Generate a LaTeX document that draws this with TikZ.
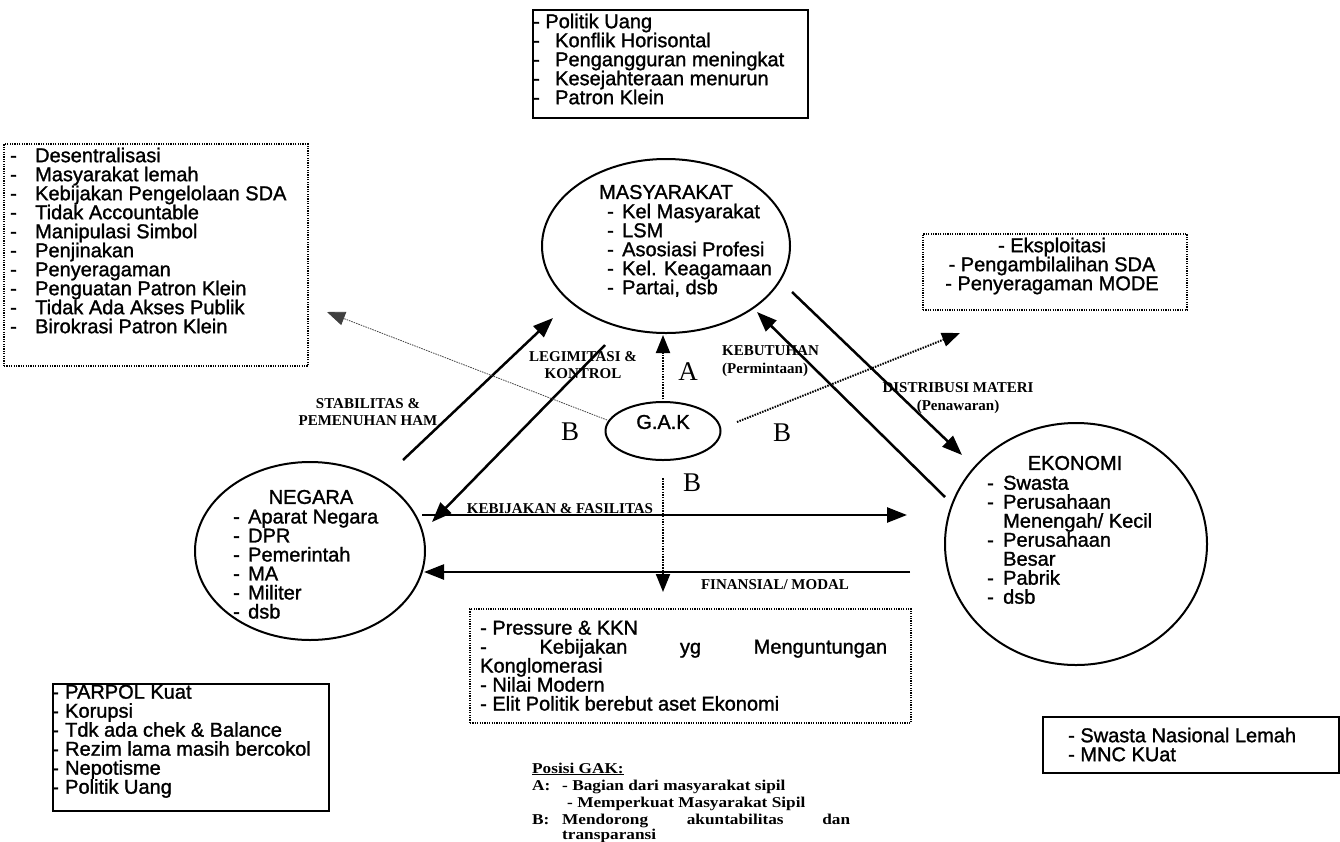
\documentclass[tikz,border=0pt]{standalone}
\usepackage{fontspec}
\setmainfont[FakeBold=1.3]{Liberation Sans}
\newfontfamily\lserif{Liberation Serif}
\newfontfamily\lserifw[FakeStretch=1.15]{Liberation Serif Bold}
\usetikzlibrary{shapes.geometric,arrows.meta}
\newcommand{\itm}[2]{\makebox[#1][l]{-}#2}
\begin{document}
\begin{tikzpicture}[x=1pt,y=-1pt,
  txt/.style={font=\fontsize{20}{19}\selectfont, inner sep=0pt, align=left},
  ctxt/.style={font=\fontsize{20}{19}\selectfont, inner sep=0pt, align=center},
  lab/.style={font=\lserif\bfseries\fontsize{15}{17.5}\selectfont, inner sep=0pt, align=center},
  posx/.style={font=\lserifw\fontsize{15}{17}\selectfont, inner sep=0pt},
  big/.style={font=\lserif\fontsize{27}{30}\selectfont, inner sep=0pt},
  ell/.style={draw, ellipse, line width=2pt, inner sep=0pt},
  sbox/.style={draw, rectangle, line width=2pt, inner sep=0pt, anchor=north west},
  dbox/.style={draw, rectangle, line width=2pt, dash pattern=on 1.2pt off 1.2pt, inner sep=0pt, anchor=north west},
  arr/.style={line width=2.5pt, -{Triangle[length=20pt,width=15pt]}},
  darr/.style={line width=2pt, dash pattern=on 1.5pt off 1.2pt, -{Triangle[length=18pt,width=14pt]}},
  tarr/.style={line width=0.8pt, dash pattern=on 1.5pt off 1pt, draw=black!75, -{Triangle[length=18pt,width=14pt]}}
]
\useasboundingbox (0,0) rectangle (1340,841);
\fill[white] (0,0) rectangle (1340,841);

% ---------- boxes ----------
\node[sbox, minimum width=275pt, minimum height=108pt] (topbox) at (532,9) {};
\node[txt, anchor=north west] (topT) at (533,13.5) {- Politik Uang\\
 \itm{22pt}{Konflik Horisontal}\\
 \itm{22pt}{Pengangguran meningkat}\\
 \itm{22pt}{Kesejahteraan menurun}\\
 \itm{22pt}{Patron Klein}};

\node[dbox, minimum width=304pt, minimum height=222pt] (leftbox) at (3,143) {};
\node[txt, anchor=north west] (leftT) at (10,147.5) {\itm{25pt}{Desentralisasi}\\
 \itm{25pt}{Masyarakat lemah}\\
 \itm{25pt}{Kebijakan Pengelolaan SDA}\\
 \itm{25pt}{Tidak Accountable}\\
 \itm{25pt}{Manipulasi Simbol}\\
 \itm{25pt}{Penjinakan}\\
 \itm{25pt}{Penyeragaman}\\
 \itm{25pt}{Penguatan Patron Klein}\\
 \itm{25pt}{Tidak Ada Akses Publik}\\
 \itm{25pt}{Birokrasi Patron Klein}};

\node[dbox, minimum width=264pt, minimum height=76pt] (rightbox) at (922,233) {};
\node[ctxt, anchor=north] (rightT) at (1052,237.5) {- Eksploitasi\\ - Pengambilalihan SDA\\ - Penyeragaman MODE};

\node[dbox, minimum width=441pt, minimum height=114pt] (midbox) at (469,608) {};
\node[txt, anchor=north west] (midT) at (480,620.5) {- Pressure \& KKN\\
 \makebox[407pt][s]{-\hfill Kebijakan\hfill yg\hfill Menguntungan}\\
 Konglomerasi\\
 - Nilai Modern\\
 - Elit Politik berebut aset Ekonomi};

\node[sbox, minimum width=276pt, minimum height=127pt] (blbox) at (52,683) {};
\node[txt, anchor=north west] (blT) at (52,684.5) {\itm{13pt}{PARPOL Kuat}\\
 \itm{13pt}{Korupsi}\\
 \itm{13pt}{Tdk ada chek \& Balance}\\
 \itm{13pt}{Rezim lama masih bercokol}\\
 \itm{13pt}{Nepotisme}\\
 \itm{13pt}{Politik Uang}};

\node[sbox, minimum width=296pt, minimum height=56pt] (brbox) at (1042,716) {};
\node[txt, anchor=north west] (brT) at (1068,727.5) {- Swasta Nasional Lemah\\ - MNC KUat};

% ---------- ellipses ----------
\node[ell, minimum width=248pt, minimum height=174pt] (masy) at (666,246) {};
\node[ctxt] (masyH) at (666,192) {MASYARAKAT};
\node[txt, anchor=north west] (masyT) at (607,203.5) {\itm{15pt}{Kel Masyarakat}\\
 \itm{15pt}{LSM}\\
 \itm{15pt}{Asosiasi Profesi}\\
 \itm{15pt}{Kel. Keagamaan}\\
 \itm{15pt}{Partai, dsb}};

\node[ell, minimum width=230pt, minimum height=178pt] (neg) at (310,551) {};
\node[ctxt] (negH) at (311,497) {NEGARA};
\node[txt, anchor=north west] (negT) at (233,509.5) {\itm{15pt}{Aparat Negara}\\
 \itm{15pt}{DPR}\\
 \itm{15pt}{Pemerintah}\\
 \itm{15pt}{MA}\\
 \itm{15pt}{Militer}\\
 \itm{15pt}{dsb}};

\node[ell, minimum width=262pt, minimum height=242pt] (eko) at (1076,544) {};
\node[ctxt] (ekoH) at (1075,463) {EKONOMI};
\node[txt, anchor=north west] (ekoT) at (987,475.5) {\itm{16pt}{Swasta}\\
 \itm{16pt}{Perusahaan}\\
 \hspace*{16pt}Menengah/ Kecil\\
 \itm{16pt}{Perusahaan}\\
 \hspace*{16pt}Besar\\
 \itm{16pt}{Pabrik}\\
 \itm{16pt}{dsb}};

\node[ell, minimum width=115pt, minimum height=58pt] (gak) at (663,431) {};
\node[ctxt] (gakT) at (663,422) {G.A.K};

% ---------- coordinates ----------
\coordinate (s1) at (403,460);  \coordinate (s2) at (553,318);
\coordinate (l1) at (605,345);  \coordinate (l2) at (432,522);
\coordinate (a1) at (663,402);  \coordinate (a2) at (663,335);
\coordinate (b1) at (663,478);  \coordinate (b2) at (663,592);
\coordinate (g1) at (607,420);  \coordinate (g2) at (327,312);
\coordinate (h1) at (737,422);  \coordinate (h2) at (960,333);
\coordinate (k1) at (945,497);  \coordinate (k2) at (757,312);
\coordinate (d1) at (792,292);  \coordinate (d2) at (962,455);
\coordinate (f1) at (422,515);  \coordinate (f2) at (907,515);
\coordinate (m1) at (910,572);  \coordinate (m2) at (424,572);

% ---------- connectors ----------
\draw[arr] (s1) -- (s2);
\draw[arr] (l1) -- (l2);
\draw[darr] (a1) -- (a2);
\draw[darr] (b1) -- (b2);
\draw[tarr] (g1) -- (g2);
\draw[darr] (h1) -- (h2);
\draw[arr] (k1) -- (k2);
\draw[arr] (d1) -- (d2);
\draw[arr] (f1) -- (f2);
\draw[arr] (m1) -- (m2);

% ---------- labels ----------
\node[lab] (labS) at (368,412) {STABILITAS \&\\PEMENUHAN HAM};
\node[lab] (labL) at (583,365) {LEGIMITASI \&\\KONTROL};
\node[lab, align=left, anchor=west] (labK) at (722,361) {KEBUTUHAN\\(Permintaan)};
\node[lab] (labD) at (958,398) {DISTRIBUSI MATERI\\(Penawaran)};
\node[lab] (labF) at (560,509) {KEBIJAKAN \& FASILITAS};
\node[lab] (labM) at (775,585) {FINANSIAL/ MODAL};

\node[big] (bigA) at (688,372) {A};
\node[big] (bigB1) at (570,432) {B};
\node[big] (bigB2) at (782,433) {B};
\node[big] (bigB3) at (692,483) {B};

% ---------- Posisi GAK ----------
\node[posx, anchor=base west] (posH) at (532,773) {\underline{Posisi GAK:}};
\node[posx, anchor=base west] (posA) at (532,790) {A:};
\node[posx, anchor=base west] (posA1) at (562,790) {- Bagian dari masyarakat sipil};
\node[posx, anchor=base west] (posA2) at (567,807) {- Memperkuat Masyarakat Sipil};
\node[posx, anchor=base west] (posB) at (532,824) {B:};
\node[posx, anchor=base west] (posB1) at (562,824) {\makebox[288pt][s]{Mendorong\hfill akuntabilitas\hfill dan}};
\node[posx, anchor=base west] (posB2) at (562,839) {transparansi};
\end{tikzpicture}
\end{document}
